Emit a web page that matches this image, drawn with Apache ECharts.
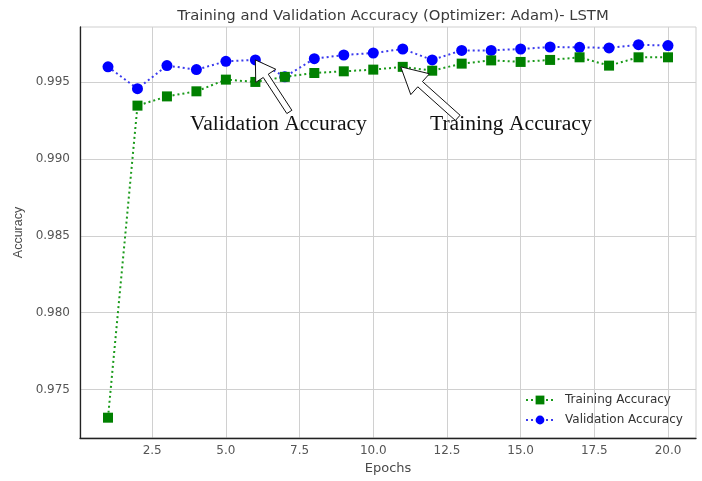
<!DOCTYPE html>
<html>
<head>
<meta charset="utf-8">
<script src="https://cdn.jsdelivr.net/npm/echarts@6/dist/echarts.min.js"></script>
<style>
  html, body { margin: 0; padding: 0; background: #ffffff; }
  #chart { width: 702px; height: 481px; }
</style>
</head>
<body>
<div id="chart"></div>
<script>
// Per-epoch accuracy of the LSTM model trained with Adam
const epochs = [1, 2, 3, 4, 5, 6, 7, 8, 9, 10, 11, 12, 13, 14, 15, 16, 17, 18, 19, 20];
const trainingAccuracy = [0.97318, 0.99346, 0.99406, 0.99439, 0.99515, 0.99500, 0.99533, 0.99558, 0.99569, 0.99580,
                          0.99598, 0.99573, 0.99619, 0.99640, 0.99630, 0.99643, 0.99660, 0.99606, 0.99660, 0.99660];
const validationAccuracy = [0.99598, 0.99456, 0.99606, 0.99580, 0.99634, 0.99643, 0.99533, 0.99651, 0.99675, 0.99688,
                            0.99714, 0.99643, 0.99705, 0.99705, 0.99714, 0.99727, 0.99725, 0.99721, 0.99742, 0.99736];
const xTicks = [2.5, 5.0, 7.5, 10.0, 12.5, 15.0, 17.5, 20.0];
const yTicks = [0.975, 0.980, 0.985, 0.990, 0.995];

const sans = '"DejaVu Sans", "Liberation Sans", Arial, sans-serif';
const narrowSans = '"Liberation Sans", Arial, sans-serif';
const serif = '"Liberation Serif", "Times New Roman", serif';

const chart = echarts.init(document.getElementById('chart'), null, { renderer: 'canvas' });

const pairs = arr => epochs.map((e, i) => [e, arr[i]]);

chart.setOption({
  animation: false,
  backgroundColor: '#ffffff',
  title: {
    text: 'Training and Validation Accuracy (Optimizer: Adam)- LSTM',
    left: 388, top: 4, textAlign: 'center',
    textStyle: { fontFamily: sans, fontSize: 14.8, fontWeight: 'normal', color: '#3a3a3a' }
  },
  grid: {
    left: 80, right: 6, top: 27, bottom: 43,
    show: true, borderColor: '#cfcfcf', borderWidth: 1
  },
  xAxis: {
    type: 'value', min: 0.05, max: 20.95,
    name: 'Epochs', nameLocation: 'middle', nameGap: 23,
    nameTextStyle: { fontFamily: sans, fontSize: 13, color: '#4a4a4a' },
    axisLine: { show: true, lineStyle: { color: '#222', width: 1.3 } },
    axisTick: { show: false, customValues: xTicks },
    axisLabel: {
      customValues: xTicks, fontFamily: sans, fontSize: 12, color: '#555', margin: 7,
      formatter: v => v.toFixed(1)
    },
    splitLine: { show: true, lineStyle: { color: '#d0d0d0', width: 1 } }
  },
  yAxis: {
    type: 'value', min: 0.97186, max: 0.99857,
    name: 'Accuracy', nameLocation: 'middle', nameGap: 52,
    nameTextStyle: { fontFamily: narrowSans, fontSize: 12.5, color: '#4a4a4a' },
    axisLine: { show: true, lineStyle: { color: '#222', width: 1.3 } },
    axisTick: { show: false, customValues: yTicks },
    axisLabel: {
      customValues: yTicks, fontFamily: sans, fontSize: 12, color: '#555', margin: 10,
      formatter: v => v.toFixed(3)
    },
    splitLine: { show: true, lineStyle: { color: '#d0d0d0', width: 1 } }
  },
  legend: {
    left: 520, top: 389, orient: 'vertical',
    itemWidth: 28, itemHeight: 11, itemGap: 8,
    textStyle: { fontFamily: sans, fontSize: 12, color: '#333', padding: [0, 0, 0, 6] },
    data: ['Training Accuracy', 'Validation Accuracy']
  },
  series: [
    {
      name: 'Training Accuracy', type: 'line', data: pairs(trainingAccuracy),
      symbol: 'rect', symbolSize: 10,
      itemStyle: { color: '#008000' },
      lineStyle: { color: '#1a9a1a', width: 2, type: [2, 3] },
      z: 3
    },
    {
      name: 'Validation Accuracy', type: 'line', data: pairs(validationAccuracy),
      symbol: 'circle', symbolSize: 11,
      itemStyle: { color: '#0000ff' },
      lineStyle: { color: '#3a3aee', width: 2, type: [2, 3] },
      z: 2
    }
  ]
});

// Hollow callout arrow from a tail point to a tip point (pixel coordinates)
function arrowShape(tip, tail, headLen, headWidth, shaftWidth) {
  const dx = tip[0] - tail[0], dy = tip[1] - tail[1];
  const len = Math.hypot(dx, dy);
  const ux = dx / len, uy = dy / len;
  const nx = -uy, ny = ux;
  const bx = tip[0] - ux * headLen, by = tip[1] - uy * headLen;
  const s = shaftWidth / 2, h = headWidth / 2;
  return [
    [tail[0] + nx * s, tail[1] + ny * s],
    [bx + nx * s, by + ny * s],
    [bx + nx * h, by + ny * h],
    [tip[0], tip[1]],
    [bx - nx * h, by - ny * h],
    [bx - nx * s, by - ny * s],
    [tail[0] - nx * s, tail[1] - ny * s]
  ];
}

const valTip = chart.convertToPixel({ gridIndex: 0 }, [epochs[5], validationAccuracy[5]]);
const trainTip = chart.convertToPixel({ gridIndex: 0 }, [epochs[10], trainingAccuracy[10]]);

chart.setOption({
  graphic: [
    {
      type: 'polygon', z: 100,
      shape: { points: arrowShape(valTip, [valTip[0] + 34, valTip[1] + 52], 19, 24, 6) },
      style: { fill: '#ffffff', stroke: '#111', lineWidth: 1 }
    },
    {
      type: 'polygon', z: 100,
      shape: { points: arrowShape([trainTip[0] - 2, trainTip[1]], [trainTip[0] + 55, trainTip[1] + 51], 26, 28, 7) },
      style: { fill: '#ffffff', stroke: '#111', lineWidth: 1 }
    },
    {
      type: 'text', z: 101, left: 190, top: 113,
      style: { text: 'Validation Accuracy', font: '21.6px ' + serif, fill: '#111' }
    },
    {
      type: 'text', z: 101, left: 430, top: 113,
      style: { text: 'Training Accuracy', font: '21.6px ' + serif, fill: '#111' }
    }
  ]
});
</script>
</body>
</html>
